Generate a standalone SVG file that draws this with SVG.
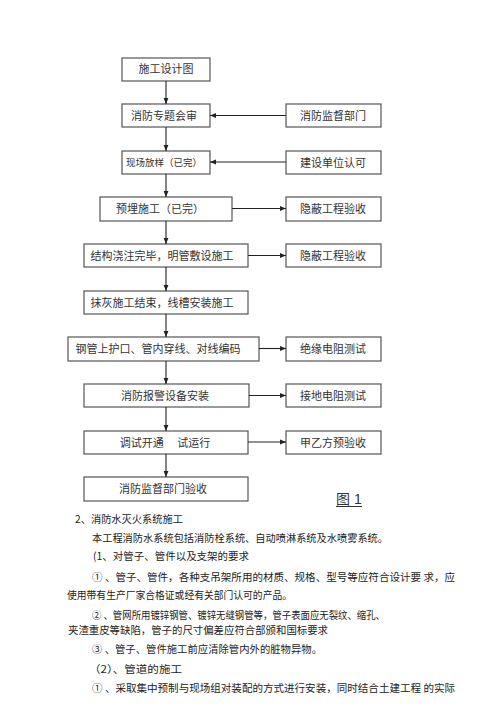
<svg xmlns="http://www.w3.org/2000/svg" width="500" height="707" viewBox="0 0 500 707">
<style>
.box rect{fill:#fff;stroke:#555;stroke-width:1.2}
.box text{font-family:"Noto Sans CJK SC","Noto Sans",sans-serif;font-size:11px;fill:#333;text-anchor:middle}
.conn line{stroke:#222;stroke-width:1.1}
.body{font-family:"Noto Sans CJK SC","Noto Sans",sans-serif;font-size:10.5px;fill:#222}
</style>
<defs>
<marker id="ah" viewBox="0 0 10 10" refX="10" refY="5" markerWidth="6" markerHeight="6" orient="auto" markerUnits="userSpaceOnUse">
<path d="M0,1 L10,5 L0,9 Z" fill="#222"/>
</marker>
</defs>
<rect width="500" height="707" fill="#fff"/>
<g id="n1" class="box"><rect x="122" y="58" width="88" height="23"/><text x="166" y="73">施工设计图</text></g>
<g id="n2" class="box"><rect x="122" y="104" width="88" height="23"/><text x="164" y="119.5">消防专题会审</text></g>
<g id="r2" class="box"><rect x="286" y="104" width="95" height="23"/><text x="333" y="119.5">消防监督部门</text></g>
<g id="n3" class="box"><rect x="122" y="151" width="88" height="23"/><text x="164" y="166" style="font-size:9.5px">现场放样（已完）</text></g>
<g id="r3" class="box"><rect x="286" y="151" width="95" height="23"/><text x="333" y="166.5">建设单位认可</text></g>
<g id="n4" class="box"><rect x="100" y="197" width="132" height="24"/><text x="160" y="213">预埋施工（已完）</text></g>
<g id="r4" class="box"><rect x="286" y="197" width="95" height="24"/><text x="333" y="213">隐蔽工程验收</text></g>
<g id="n5" class="box"><rect x="84" y="244" width="164" height="23"/><text x="162" y="259.5">结构浇注完毕，明管敷设施工</text></g>
<g id="r5" class="box"><rect x="286" y="244" width="95" height="23"/><text x="333" y="259.5">隐蔽工程验收</text></g>
<g id="n6" class="box"><rect x="84" y="291" width="164" height="23"/><text x="162" y="306.5">抹灰施工结束，线槽安装施工</text></g>
<g id="n7" class="box"><rect x="68" y="337" width="191" height="24"/><text x="158" y="353">钢管上护口、管内穿线、对线编码</text></g>
<g id="r7" class="box"><rect x="286" y="337" width="95" height="24"/><text x="333" y="353">绝缘电阻测试</text></g>
<g id="n8" class="box"><rect x="84" y="384" width="165" height="23"/><text x="165" y="399.5">消防报警设备安装</text></g>
<g id="r8" class="box"><rect x="286" y="384" width="95" height="23"/><text x="333" y="399.5">接地电阻测试</text></g>
<g id="n9" class="box"><rect x="84" y="431" width="164" height="23"/><text x="165" y="446.5" xml:space="preserve">调试开通　 试运行</text></g>
<g id="r9" class="box"><rect x="286" y="431" width="95" height="23"/><text x="333" y="446.5">甲乙方预验收</text></g>
<g id="n10" class="box"><rect x="84" y="477" width="164" height="24"/><text x="163" y="493">消防监督部门验收</text></g>
<g id="conn" class="conn">
<line x1="166" y1="81" x2="166" y2="104" marker-end="url(#ah)"/>
<line x1="166" y1="127" x2="166" y2="151" marker-end="url(#ah)"/>
<line x1="166" y1="174" x2="166" y2="197" marker-end="url(#ah)"/>
<line x1="166" y1="221" x2="166" y2="244" marker-end="url(#ah)"/>
<line x1="166" y1="267" x2="166" y2="291" marker-end="url(#ah)"/>
<line x1="166" y1="314" x2="166" y2="337" marker-end="url(#ah)"/>
<line x1="166" y1="361" x2="166" y2="384" marker-end="url(#ah)"/>
<line x1="166" y1="407" x2="166" y2="431" marker-end="url(#ah)"/>
<line x1="166" y1="454" x2="166" y2="477" marker-end="url(#ah)"/>
<line x1="286" y1="115.5" x2="210" y2="115.5" marker-end="url(#ah)"/>
<line x1="286" y1="162" x2="210" y2="162" marker-end="url(#ah)"/>
<line x1="232" y1="208.5" x2="286" y2="208.5" marker-end="url(#ah)"/>
<line x1="248" y1="255.5" x2="286" y2="255.5" marker-end="url(#ah)"/>
<line x1="259" y1="348.5" x2="286" y2="348.5" marker-end="url(#ah)"/>
<line x1="249" y1="395.5" x2="286" y2="395.5" marker-end="url(#ah)"/>
<line x1="248" y1="442" x2="286" y2="442" marker-end="url(#ah)"/>
</g>
<g id="caption">
<text x="336" y="504" style="font-family:'Liberation Sans','Noto Sans CJK SC',sans-serif;font-size:14px;fill:#333" xml:space="preserve">图 1</text>
<line x1="336" y1="506.5" x2="362" y2="506.5" stroke="#333" stroke-width="1"/>
</g>
<g id="bodytext" class="body">
<text x="75" y="522.5" textLength="108" lengthAdjust="spacingAndGlyphs">2、消防水灭火系统施工</text>
<text x="92" y="541.5" textLength="296" lengthAdjust="spacingAndGlyphs">本工程消防水系统包括消防栓系统、自动喷淋系统及水喷雾系统。</text>
<text x="93" y="560" textLength="156" lengthAdjust="spacingAndGlyphs">(1、对管子、管件以及支架的要求</text>
<text x="92" y="580.5" textLength="363" lengthAdjust="spacingAndGlyphs" xml:space="preserve">① 、管子、管件，各种支吊架所用的材质、规格、型号等应符合设计要 求，应</text>
<text x="67" y="599" textLength="225" lengthAdjust="spacingAndGlyphs">使用带有生产厂家合格证或经有关部门认可的产品。</text>
<text x="92" y="618.5" textLength="293" lengthAdjust="spacingAndGlyphs" xml:space="preserve">② 、管网所用镀锌钢管、镀锌无缝钢管等，管子表面应无裂纹、缩孔、</text>
<text x="68" y="634" textLength="260" lengthAdjust="spacingAndGlyphs">夹渣重皮等缺陷，管子的尺寸偏差应符合部颁和国标要求</text>
<text x="92" y="653" textLength="230" lengthAdjust="spacingAndGlyphs" xml:space="preserve">③ 、管子、管件施工前应清除管内外的脏物异物。</text>
<text x="89" y="673" textLength="93" lengthAdjust="spacingAndGlyphs">（2）、管道的施工</text>
<text x="92" y="692" textLength="363" lengthAdjust="spacingAndGlyphs" xml:space="preserve">① 、采取集中预制与现场组对装配的方式进行安装，同时结合土建工程 的实际</text>
</g>
</svg>
